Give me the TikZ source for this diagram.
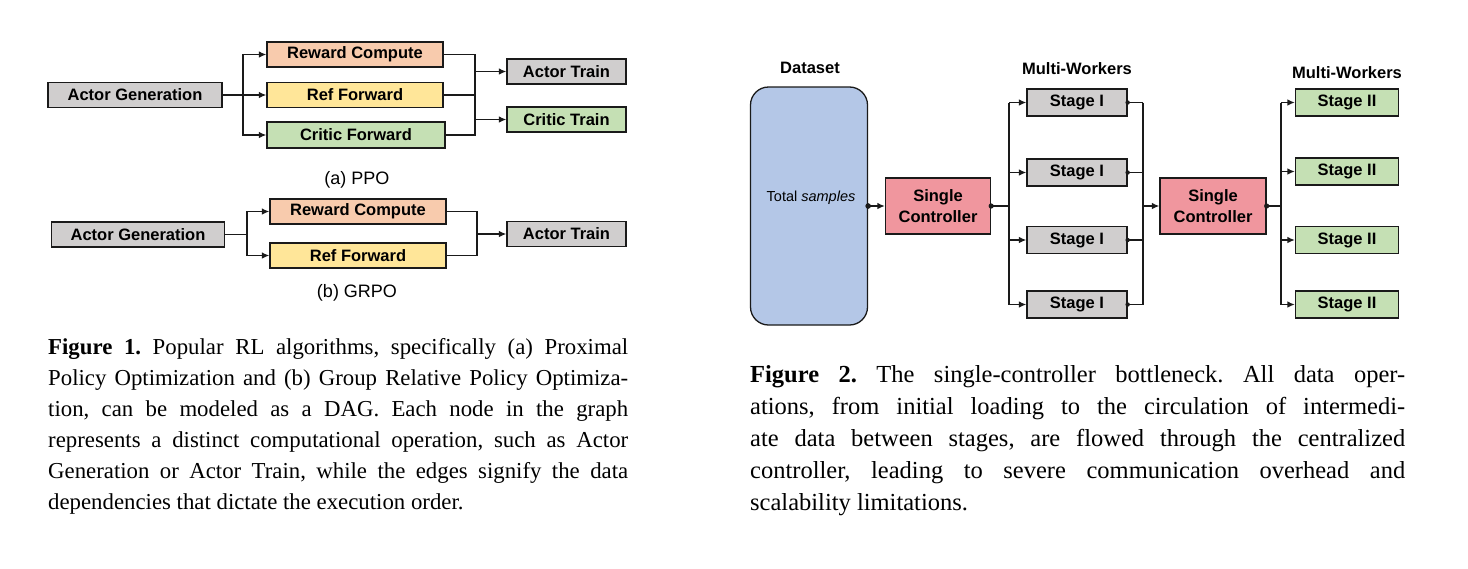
\documentclass[tikz,border=0pt]{standalone}
\usepackage{fontspec}
\setmainfont{Liberation Serif}
\newfontfamily\sansf{Liberation Sans}
\usetikzlibrary{arrows.meta,calc}
\definecolor{boxgray}{HTML}{D0CECE}
\definecolor{peach}{HTML}{F8CBAD}
\definecolor{yel}{HTML}{FFE699}
\definecolor{grn}{HTML}{C5E0B4}
\definecolor{dsblue}{HTML}{B4C7E7}
\definecolor{ctlpink}{HTML}{F0969E}
\definecolor{ink}{HTML}{1A1A1A}
\frenchspacing
\begin{document}
\begin{tikzpicture}[x=1pt,y=-1pt,
  box/.style={draw=ink, line width=1.3pt, inner sep=0pt, minimum height=25pt,
    font=\sansf\bfseries\fontsize{16.5}{18}\selectfont},
  conn/.style={draw=ink, line width=1.3pt},
  arr/.style={conn, -{Latex[length=7.5pt,width=6.5pt]}},
  lbl/.style={font=\sansf\bfseries\fontsize{16.5}{18}\selectfont, inner sep=0pt},
  subcap/.style={font=\sansf\fontsize{18}{20}\selectfont, inner sep=0pt},
  captext/.style={anchor=north west, inner sep=0pt, align=left}
]
\useasboundingbox (0,0) rectangle (1468,568);

% ---------- Figure 1 (a) PPO ----------
\node[box, fill=boxgray, minimum width=174pt] (ag) at (135,95) {Actor Generation};
\node[box, fill=peach, minimum width=176pt] (rc) at (355,54.5) {Reward Compute};
\node[box, fill=yel, minimum width=176pt] (rf) at (355,95) {Ref Forward};
\node[box, fill=grn, minimum width=178pt, minimum height=26pt] (cf) at (356,135) {Critic Forward};
\node[box, fill=boxgray, minimum width=119pt] (at) at (566.5,71.5) {Actor Train};
\node[box, fill=grn, minimum width=119pt] (ct) at (566.5,119.5) {Critic Train};
\coordinate (ja) at (243,95);
\coordinate (jb) at (475,95);
\draw[conn] (ag.east) -- (ja);
\draw[arr] (ja) |- (rc.west);
\draw[arr] (ja) -- (rf.west);
\draw[arr] (ja) |- (cf.west);
\draw[conn] (rc.east) -- (rc.east -| jb) -- (cf.east -| jb) -- (cf.east);
\draw[conn] (rf.east) -- (rf.east -| jb);
\draw[arr] (at.west -| jb) -- (at.west);
\draw[arr] (ct.west -| jb) -- (ct.west);
\node[subcap] (capa) at (357,180) {(a) PPO};

% ---------- Figure 1 (b) GRPO ----------
\node[box, fill=boxgray, minimum width=173pt] (ag2) at (138,234.5) {Actor Generation};
\node[box, fill=peach, minimum width=176pt] (rc2) at (358,211.5) {Reward Compute};
\node[box, fill=yel, minimum width=176pt] (rf2) at (358,255.5) {Ref Forward};
\node[box, fill=boxgray, minimum width=119pt] (at2) at (566.5,234) {Actor Train};
\coordinate (ja2) at (247,234.5);
\coordinate (jb2) at (477,234);
\draw[conn] (ag2.east) -- (ja2);
\draw[arr] (ja2) |- (rc2.west);
\draw[arr] (ja2) |- (rf2.west);
\draw[conn] (rc2.east) -- (rc2.east -| jb2) -- (rf2.east -| jb2) -- (rf2.east);
\draw[arr] (jb2) -- (at2.west);
\node[subcap] (capb) at (357,293) {(b) GRPO};

% ---------- Figure 1 caption ----------
\node[captext, font=\fontsize{22.8}{31}\selectfont] (cap1) at (48,338) {%
\makebox[580pt][s]{\textbf{Figure 1.} Popular RL algorithms, specifically (a) Proximal}\\
\makebox[580pt][s]{Policy Optimization and (b) Group Relative Policy Optimiza-}\\
\makebox[580pt][s]{tion, can be modeled as a DAG. Each node in the graph}\\
\makebox[580pt][s]{represents a distinct computational operation, such as Actor}\\
\makebox[580pt][s]{Generation or Actor Train, while the edges signify the data}\\
dependencies that dictate the execution order.};

% ---------- Figure 2 ----------
\node[lbl] (dsl) at (810,68) {Dataset};
\node[draw=ink, line width=1.3pt, fill=dsblue, rounded corners=18pt,
      minimum width=117pt, minimum height=238pt, inner sep=0pt] (ds) at (809,206) {};
\node[font=\sansf\fontsize{14.5}{16}\selectfont, inner sep=0pt] (ts) at (811,198) {Total \textit{samples}};

\node[box, fill=ctlpink, minimum width=105pt, minimum height=56pt, align=center,
      font=\sansf\bfseries\fontsize{16.5}{21}\selectfont] (sc1) at (938,206) {Single\\Controller};
\node[box, fill=ctlpink, minimum width=106pt, minimum height=56pt, align=center,
      font=\sansf\bfseries\fontsize{16.5}{21}\selectfont] (sc2) at (1213,206) {Single\\Controller};

\node[lbl] (mw1) at (1077,69) {Multi-Workers};
\node[lbl] (mw2) at (1347,73) {Multi-Workers};

\foreach \i/\y in {1/102.5,2/172.5,3/240,4/304.5}{
  \node[box, fill=boxgray, minimum width=100pt, minimum height=27pt] (s\i) at (1077,\y) {Stage I};
}
\foreach \i/\y in {1/102.5,2/171.5,3/240,4/304.5}{
  \node[box, fill=grn, minimum width=103pt, minimum height=27pt] (t\i) at (1347,\y) {Stage II};
}

\coordinate (j1) at (1009,206);
\coordinate (j2) at (1143,206);
\coordinate (j3) at (1281,206);

\draw[arr] (ds.east) -- (sc1.west);
\fill[ink] (ds.east) circle[radius=2.8pt];

\draw[conn] (sc1.east) -- (j1);
\fill[ink] (sc1.east) circle[radius=2.6pt];
\draw[conn] (s1.west -| j1) -- (s4.west -| j1);
\foreach \i in {1,...,4}{
  \draw[arr] (s\i.west -| j1) -- (s\i.west);
  \draw[conn] (s\i.east) -- (s\i.east -| j2);
  \fill[ink] (s\i.east) circle[radius=2.2pt];
}
\draw[conn] (s1.east -| j2) -- (s4.east -| j2);
\draw[arr] (j2) -- (sc2.west);

\draw[conn] (sc2.east) -- (j3);
\fill[ink] (sc2.east) circle[radius=2.6pt];
\draw[conn] (t1.west -| j3) -- (t4.west -| j3);
\foreach \i in {1,...,4}{
  \draw[arr] (t\i.west -| j3) -- (t\i.west);
}

% ---------- Figure 2 caption ----------
\node[captext, font=\fontsize{24.5}{32}\selectfont] (cap2) at (750,365) {%
\makebox[655pt][s]{\textbf{Figure 2.} The single-controller bottleneck. All data oper-}\\
\makebox[655pt][s]{ations, from initial loading to the circulation of intermedi-}\\
\makebox[655pt][s]{ate data between stages, are flowed through the centralized}\\
\makebox[655pt][s]{controller, leading to severe communication overhead and}\\
scalability limitations.};
\end{tikzpicture}
\end{document}
